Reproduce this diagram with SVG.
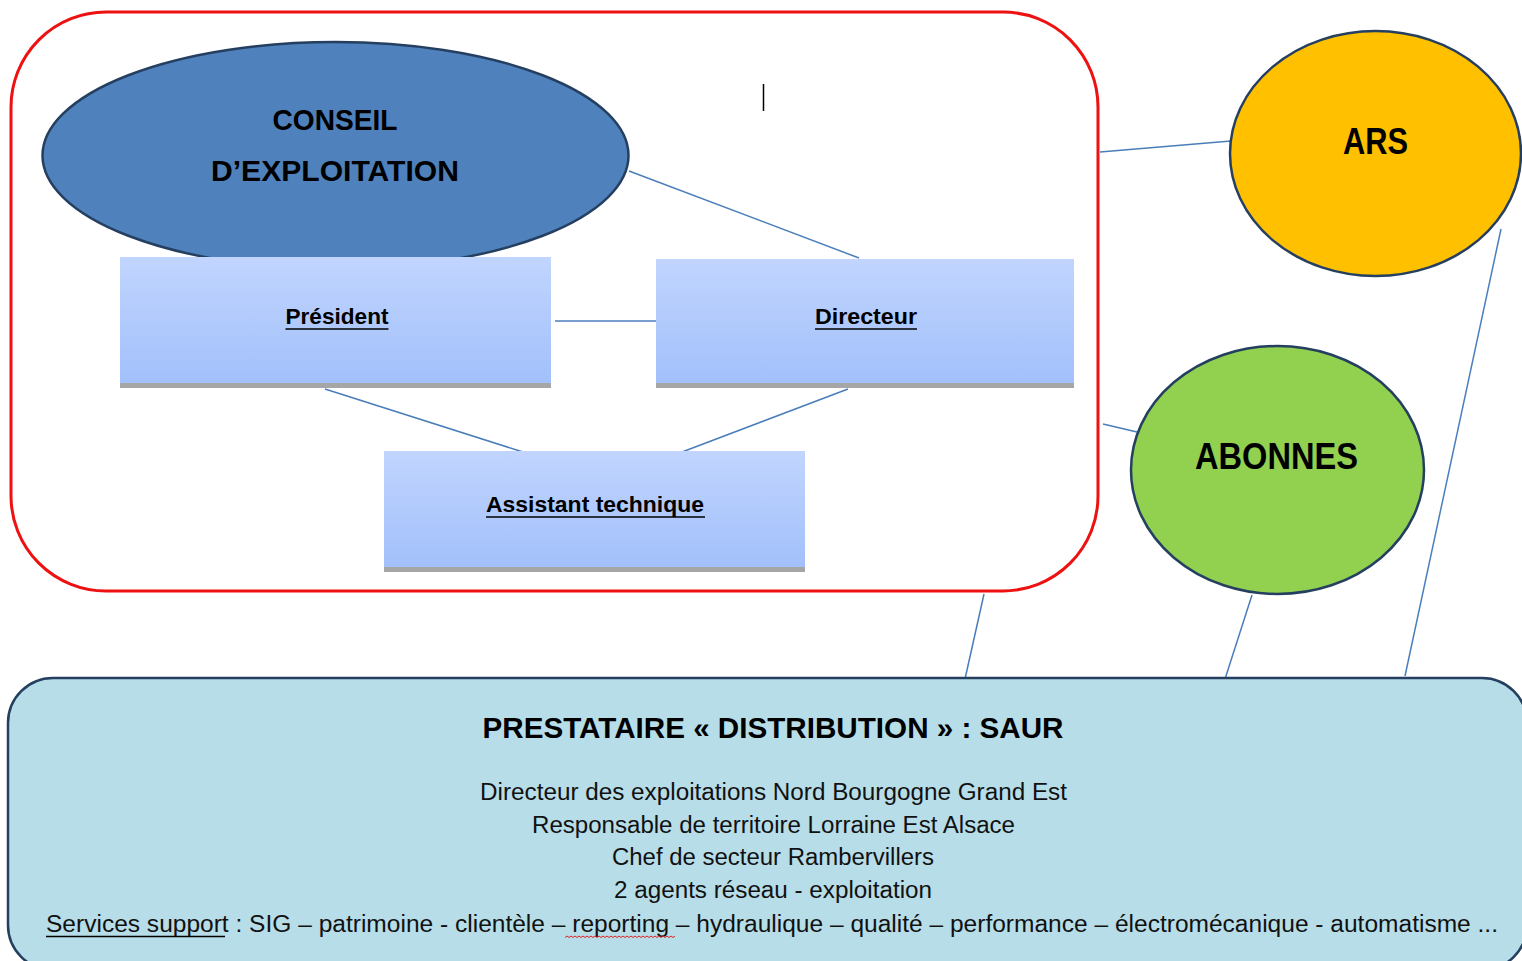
<svg xmlns="http://www.w3.org/2000/svg" width="1522" height="961" viewBox="0 0 1522 961">
<defs>
<linearGradient id="boxg" x1="0" y1="0" x2="0" y2="1">
<stop offset="0" stop-color="#c1d5fe"/>
<stop offset="1" stop-color="#a2c0fb"/>
</linearGradient>
</defs>
<style>
.lbl{font-family:"Liberation Sans",Arial,sans-serif;font-weight:bold;fill:#000;}
.body{font-family:"Liberation Sans",Arial,sans-serif;fill:#111;}
.conn{stroke:#4a7ebb;stroke-width:1.5;fill:none;}
.ul{stroke:#000;stroke-width:1.6;}
.node-ell{stroke:#243f60;stroke-width:2.5;}
.shadow{fill:#a6a6a6;}
</style>
<rect width="1522" height="961" fill="#fff"/>

<g id="connectors">
<line class="conn" x1="629" y1="171" x2="859" y2="258"/>
<line class="conn" x1="555" y1="321" x2="657" y2="321"/>
<line class="conn" x1="325" y1="389" x2="523" y2="452"/>
<line class="conn" x1="848" y1="389" x2="682" y2="452"/>
<line class="conn" x1="1100" y1="152" x2="1231" y2="141"/>
<line class="conn" x1="1103" y1="424" x2="1137" y2="432"/>
<line class="conn" x1="984" y1="594" x2="965" y2="679"/>
<line class="conn" x1="1252" y1="595" x2="1225" y2="679"/>
<line class="conn" x1="1501" y1="229" x2="1405" y2="676"/>
</g>

<g id="exploitation-frame">
<rect x="11" y="12" width="1087" height="579" rx="95" ry="95" fill="none" stroke="#ee1111" stroke-width="3"/>
<line x1="763.5" y1="84" x2="763.5" y2="111" stroke="#000" stroke-width="1.5"/>
</g>

<g id="conseil">
<ellipse class="node-ell" cx="335.5" cy="155.5" rx="293" ry="113.5" fill="#4f81bd"/>
<text class="lbl" x="335" y="130" font-size="29.5" text-anchor="middle" textLength="125" lengthAdjust="spacingAndGlyphs">CONSEIL</text>
<text class="lbl" x="335" y="181" font-size="29.5" text-anchor="middle" textLength="248" lengthAdjust="spacingAndGlyphs">D’EXPLOITATION</text>
</g>

<g id="president">
<rect class="shadow" x="120" y="258" width="431" height="130"/>
<rect x="120" y="257" width="431" height="126" fill="url(#boxg)"/>
<text class="lbl" x="337" y="324" font-size="22.5" text-anchor="middle" textLength="103" lengthAdjust="spacingAndGlyphs">Président</text>
<line class="ul" x1="285.5" y1="329" x2="388.5" y2="329"/>
</g>

<g id="directeur">
<rect class="shadow" x="656" y="260" width="418" height="128"/>
<rect x="656" y="259" width="418" height="124" fill="url(#boxg)"/>
<text class="lbl" x="866" y="324" font-size="22.5" text-anchor="middle" textLength="102" lengthAdjust="spacingAndGlyphs">Directeur</text>
<line class="ul" x1="815" y1="329" x2="917" y2="329"/>
</g>

<g id="assistant">
<rect class="shadow" x="384" y="452" width="421" height="120"/>
<rect x="384" y="451" width="421" height="116" fill="url(#boxg)"/>
<text class="lbl" x="595" y="512" font-size="22.5" text-anchor="middle" textLength="218" lengthAdjust="spacingAndGlyphs">Assistant technique</text>
<line class="ul" x1="486" y1="517" x2="705" y2="517"/>
</g>

<g id="ars">
<ellipse class="node-ell" cx="1375.5" cy="153.5" rx="145.5" ry="122.5" fill="#ffc000"/>
<text class="lbl" x="1375.5" y="154" font-size="37" text-anchor="middle" textLength="65" lengthAdjust="spacingAndGlyphs">ARS</text>
</g>

<g id="abonnes">
<ellipse class="node-ell" cx="1277.5" cy="470" rx="146.5" ry="124" fill="#92d050"/>
<text class="lbl" x="1276.5" y="469" font-size="37" text-anchor="middle" textLength="163" lengthAdjust="spacingAndGlyphs">ABONNES</text>
</g>

<g id="saur">
<rect x="8" y="678" width="1519" height="292" rx="45" ry="45" fill="#b7dde8" stroke="#243f60" stroke-width="2.5"/>
<text class="lbl" x="773" y="738" font-size="30" text-anchor="middle" textLength="581" lengthAdjust="spacingAndGlyphs">PRESTATAIRE « DISTRIBUTION » : SAUR</text>
<text class="body" x="773.5" y="800" font-size="23" text-anchor="middle" textLength="587" lengthAdjust="spacingAndGlyphs">Directeur des exploitations Nord Bourgogne Grand Est</text>
<text class="body" x="773.5" y="833" font-size="23" text-anchor="middle" textLength="483" lengthAdjust="spacingAndGlyphs">Responsable de territoire Lorraine Est Alsace</text>
<text class="body" x="773" y="865" font-size="23" text-anchor="middle" textLength="322" lengthAdjust="spacingAndGlyphs">Chef de secteur Rambervillers</text>
<text class="body" x="773" y="898" font-size="23" text-anchor="middle" textLength="318" lengthAdjust="spacingAndGlyphs">2 agents réseau - exploitation</text>
<text class="body" x="46" y="932" font-size="23" textLength="1452" lengthAdjust="spacingAndGlyphs">Services support : SIG – patrimoine - clientèle – reporting – hydraulique – qualité – performance – électromécanique - automatisme ...</text>
<line class="ul" x1="46" y1="936.5" x2="225" y2="936.5"/>
<path d="M565 937.5 l2 -1.5 l2 1.5 l2 -1.5 l2 1.5 l2 -1.5 l2 1.5 l2 -1.5 l2 1.5 l2 -1.5 l2 1.5 l2 -1.5 l2 1.5 l2 -1.5 l2 1.5 l2 -1.5 l2 1.5 l2 -1.5 l2 1.5 l2 -1.5 l2 1.5 l2 -1.5 l2 1.5 l2 -1.5 l2 1.5 l2 -1.5 l2 1.5 l2 -1.5 l2 1.5 l2 -1.5 l2 1.5 l2 -1.5 l2 1.5 l2 -1.5 l2 1.5 l2 -1.5 l2 1.5 l2 -1.5 l2 1.5 l2 -1.5 l2 1.5 l2 -1.5 l2 1.5 l2 -1.5 l2 1.5 l2 -1.5 l2 1.5 l2 -1.5 l2 1.5 l2 -1.5 l2 1.5 l2 -1.5 l2 1.5 l2 -1.5 l2 1.5 l2 -1.5" fill="none" stroke="#e02020" stroke-width="1"/>
</g>
</svg>
